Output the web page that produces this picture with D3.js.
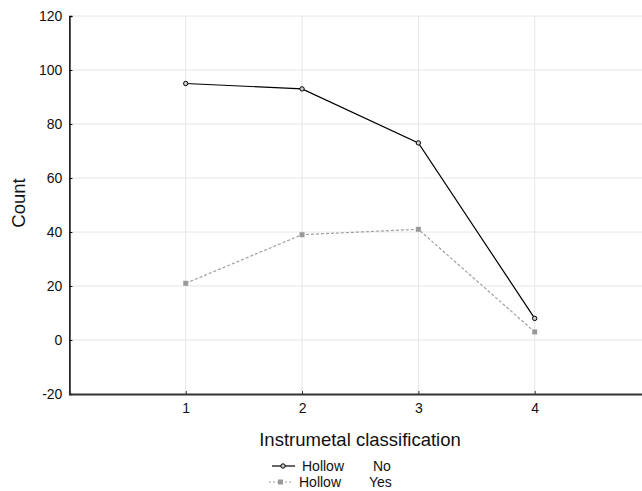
<!DOCTYPE html>
<html>
<head>
<meta charset="utf-8">
<script src="https://cdn.jsdelivr.net/npm/d3@7"></script>
<style>
  body { margin: 0; background: #fff; }
  svg { display: block; font-family: Arial, "Liberation Sans", sans-serif; }
</style>
</head>
<body>
<svg></svg>
<script>
let categories = [1, 2, 3, 4];
let hollowNo = [95, 93, 73, 8];
let hollowYes = [21, 39, 41, 3];
let yTicks = [-20, 0, 20, 40, 60, 80, 100, 120];
let seriesNames = [["Hollow", "No"], ["Hollow", "Yes"]];

let width = 642,
    height = 491;

let svg = d3.select('svg')
    .attr('width', width)
    .attr('height', height);

let x = d3.scaleLinear()
    .domain([0, 5])
    .range([69.4, 651]);

let y = d3.scaleLinear()
    .domain([-20, 120])
    .range([394, 16]);

// grid
let grid = svg.append('g');
grid.selectAll('line.h')
    .data(yTicks.filter(t => t > -20)).enter()
    .append('line')
    .attr('x1', x(0)).attr('x2', width)
    .attr('y1', d => y(d)).attr('y2', d => y(d))
    .attr('stroke', '#e6e6e6').attr('stroke-width', 1);
grid.selectAll('line.v')
    .data(categories).enter()
    .append('line')
    .attr('x1', d => x(d)).attr('x2', d => x(d))
    .attr('y1', y(120)).attr('y2', y(-20))
    .attr('stroke', '#e6e6e6').attr('stroke-width', 1);

// axes
let yAxis = svg.append('g')
    .attr('transform', 'translate(' + x(0) + ',0)')
    .call(d3.axisRight(y).tickValues(yTicks).tickSize(3).tickFormat(d => String(d)));
yAxis.select('.domain').attr('stroke', '#000').attr('stroke-width', 1.5);
yAxis.selectAll('.tick line').attr('stroke', '#000');
yAxis.selectAll('.tick text')
    .attr('x', -7)
    .attr('text-anchor', 'end')
    .attr('font-size', 14)
    .attr('fill', '#111');

let xAxis = svg.append('g')
    .attr('transform', 'translate(0,' + y(-20) + ')')
    .call(d3.axisTop(x).tickValues(categories).tickSize(3).tickFormat(d => String(d)));
xAxis.select('.domain').attr('stroke', '#333').attr('stroke-width', 2);
xAxis.selectAll('.tick line').attr('stroke', '#333');
xAxis.selectAll('.tick text')
    .attr('y', 19)
    .attr('font-size', 14)
    .attr('fill', '#111');

// axis titles
svg.append('text')
    .attr('x', 360).attr('y', 446)
    .attr('text-anchor', 'middle')
    .attr('font-size', 18.5)
    .attr('fill', '#111')
    .text('Instrumetal classification');
svg.append('text')
    .attr('transform', 'translate(25,203)rotate(-90)')
    .attr('text-anchor', 'middle')
    .attr('font-size', 18.5)
    .attr('fill', '#111')
    .text('Count');

// lines
let line = d3.line()
    .x((d, i) => x(categories[i]))
    .y(d => y(d));

svg.append('path')
    .datum(hollowYes)
    .attr('d', line)
    .attr('fill', 'none')
    .attr('stroke', '#a0a0a0')
    .attr('stroke-width', 1.2)
    .attr('stroke-dasharray', '3,2');
svg.selectAll('rect.yes')
    .data(hollowYes).enter()
    .append('rect')
    .attr('x', (d, i) => x(categories[i]) - 2.5)
    .attr('y', d => y(d) - 2.5)
    .attr('width', 5).attr('height', 5)
    .attr('fill', '#999');

svg.append('path')
    .datum(hollowNo)
    .attr('d', line)
    .attr('fill', 'none')
    .attr('stroke', '#000')
    .attr('stroke-width', 1.2);
svg.selectAll('circle.no')
    .data(hollowNo).enter()
    .append('circle')
    .attr('cx', (d, i) => x(categories[i]))
    .attr('cy', d => y(d))
    .attr('r', 2.2)
    .attr('fill', '#ccc')
    .attr('stroke', '#000')
    .attr('stroke-width', 1);

// legend
let legend = svg.append('g');
let rows = legend.selectAll('g')
    .data(seriesNames).enter()
    .append('g')
    .attr('transform', (d, i) => 'translate(' + (i ? 269 : 272) + ',' + (i ? 482 : 466) + ')');
rows.append('line')
    .attr('x1', 0).attr('x2', 23)
    .attr('stroke', (d, i) => i ? '#a0a0a0' : '#000')
    .attr('stroke-width', 1.2)
    .attr('stroke-dasharray', (d, i) => i ? '2,2' : null);
rows.each(function (d, i) {
    let g = d3.select(this);
    if (i) {
        g.append('rect').attr('x', 9).attr('y', -2.5).attr('width', 5).attr('height', 5).attr('fill', '#999');
    } else {
        g.append('circle').attr('cx', 11).attr('r', 2.2).attr('fill', '#ccc').attr('stroke', '#000');
    }
});
rows.append('text')
    .attr('x', 30)
    .attr('y', 5)
    .attr('font-size', 14)
    .attr('fill', '#111')
    .text(d => d[0]);
rows.append('text')
    .attr('x', (d, i) => i ? 100 : 101)
    .attr('y', 5)
    .attr('font-size', 14)
    .attr('fill', '#111')
    .text(d => d[1]);
</script>
</body>
</html>
